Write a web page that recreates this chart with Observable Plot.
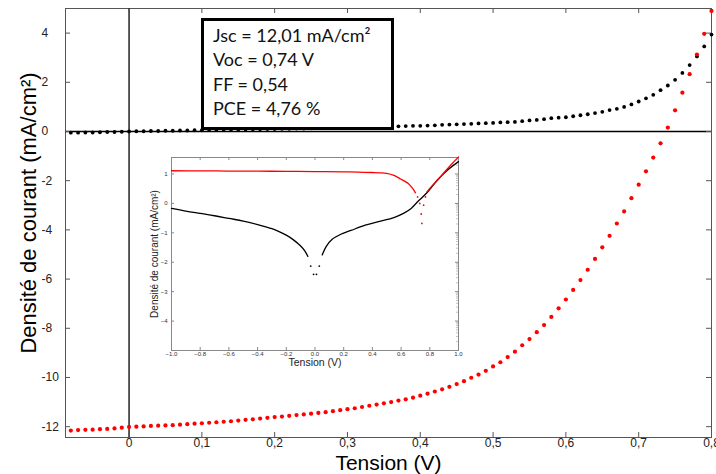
<!DOCTYPE html>
<html>
<head>
<meta charset="utf-8">
<script src="https://cdn.jsdelivr.net/npm/d3@7"></script>
<script src="https://cdn.jsdelivr.net/npm/@observablehq/plot@0.6"></script>
<style>
  html, body { margin: 0; padding: 0; background: white; }
  #wrap { position: relative; width: 716px; height: 474px; overflow: hidden; }
  #inset { position: absolute; left: 140px; top: 150px; }
  #box {
    position: absolute; left: 201px; top: 18px; width: 178px; height: 104px;
    border: 3px solid black; background: white; box-sizing: content-box;
    font-family: Lato, "Open Sans", sans-serif; font-size: 18px; color: #111;
    padding: 2px 0 0 9px; line-height: 24.3px;
  }
</style>
</head>
<body>
<div id="wrap">
  <div id="box">
    <div>Jsc = 12,01 mA/cm²</div>
    <div>Voc = 0,74 V</div>
    <div>FF = 0,54</div>
    <div>PCE = 4,76 %</div>
  </div>
</div>
<script>
// ---- Main chart data (J–V, mA/cm² vs V) ----
const voltage = [-0.08,-0.07,-0.06,-0.05,-0.04,-0.03,-0.02,-0.01,0.00,0.01,0.02,0.03,0.04,0.05,0.06,0.07,0.08,0.09,
  0.10,0.11,0.12,0.13,0.14,0.15,0.16,0.17,0.18,0.19,0.20,0.21,0.22,0.23,0.24,0.25,0.26,0.27,0.28,0.29,
  0.30,0.31,0.32,0.33,0.34,0.35,0.36,0.37,0.38,0.39,0.40,0.41,0.42,0.43,0.44,0.45,0.46,0.47,0.48,0.49,
  0.50,0.51,0.52,0.53,0.54,0.55,0.56,0.57,0.58,0.59,0.60,0.61,0.62,0.63,0.64,0.65,0.66,0.67,0.68,0.69,
  0.70,0.71,0.72,0.73,0.74,0.75,0.76,0.77,0.78,0.79,0.80];

const jLight = [-12.16,-12.14,-12.13,-12.12,-12.10,-12.09,-12.07,-12.04,-12.01,-12.00,-11.99,-11.97,-11.96,-11.95,-11.94,-11.92,-11.90,-11.88,
  -11.86,-11.84,-11.82,-11.80,-11.78,-11.75,-11.72,-11.70,-11.67,-11.64,-11.61,-11.59,-11.56,-11.53,-11.50,-11.47,-11.44,-11.41,-11.37,-11.33,
  -11.29,-11.25,-11.20,-11.15,-11.10,-11.05,-11.00,-10.94,-10.89,-10.82,-10.74,-10.66,-10.57,-10.48,-10.38,-10.27,-10.15,-10.01,-9.88,-9.73,
  -9.55,-9.38,-9.17,-8.95,-8.69,-8.44,-8.16,-7.87,-7.54,-7.19,-6.83,-6.44,-6.04,-5.62,-5.18,-4.71,-4.24,-3.74,-3.25,-2.71,
  -2.16,-1.62,-1.06,-0.48,0.16,0.86,1.58,2.33,3.13,3.97,4.90];

const jDark = [-0.05,-0.05,-0.04,-0.04,-0.03,-0.02,-0.02,-0.01,0.00,0.01,0.01,0.02,0.02,0.03,0.03,0.04,0.04,0.05,
  0.05,0.06,0.06,0.07,0.07,0.08,0.08,0.09,0.09,0.10,0.10,0.11,0.11,0.12,0.12,0.13,0.14,0.14,0.15,0.15,
  0.16,0.17,0.17,0.18,0.19,0.19,0.20,0.21,0.22,0.23,0.23,0.24,0.25,0.27,0.28,0.29,0.30,0.31,0.33,0.34,
  0.35,0.37,0.38,0.39,0.42,0.45,0.47,0.50,0.54,0.56,0.58,0.62,0.66,0.70,0.75,0.80,0.87,0.92,1.00,1.10,
  1.22,1.35,1.49,1.68,1.87,2.10,2.38,2.70,3.05,3.46,3.94];

const xTicks = [0, 0.1, 0.2, 0.3, 0.4, 0.5, 0.6, 0.7, 0.8];
const yTicks = [4, 2, 0, -2, -4, -6, -8, -10, -12];

// ---- Inset data (log10 |J| vs V) ----
const insetDarkLeftV = [-1.00,-0.90,-0.80,-0.70,-0.60,-0.50,-0.40,-0.30,-0.25,-0.20,-0.15,-0.10,-0.07,-0.05];
const insetDarkLeftJ = [-0.17,-0.26,-0.34,-0.42,-0.51,-0.60,-0.72,-0.86,-0.96,-1.08,-1.24,-1.45,-1.62,-1.80];
const insetDarkDipV = [-0.03,-0.01,0.01,0.03];
const insetDarkDipJ = [-2.13,-2.41,-2.41,-2.13];
const insetDarkRightV = [0.05,0.08,0.12,0.18,0.25,0.35,0.45,0.55,0.62,0.67,0.72,0.78,0.85,0.92,1.00];
const insetDarkRightJ = [-1.75,-1.45,-1.22,-1.05,-0.92,-0.74,-0.61,-0.48,-0.33,-0.17,0.08,0.36,0.78,1.12,1.42];

const insetLightLeftV = [-1.00,-0.80,-0.60,-0.40,-0.20,0.00,0.20,0.30,0.40,0.45,0.50,0.55,0.60,0.63,0.65,0.68,0.70];
const insetLightLeftJ = [1.11,1.105,1.10,1.095,1.09,1.08,1.07,1.065,1.05,1.04,1.02,0.95,0.82,0.74,0.68,0.51,0.36];
const insetLightDipV = [0.715,0.73,0.74,0.745,0.757,0.77];
const insetLightDipJ = [0.22,0.00,-0.36,-0.68,-0.06,0.22];
const insetLightRightV = [0.78,0.82,0.86,0.90,0.95,1.00];
const insetLightRightJ = [0.39,0.62,0.82,1.05,1.32,1.58];

const insetXTicks = [-1,-0.8,-0.6,-0.4,-0.2,0,0.2,0.4,0.6,0.8,1];
const insetYTicks = [1,0,-1,-2,-3,-4];
const insetMinorTicks = [];
for (let d = -5; d <= 1; d++) for (let k = 2; k <= 9; k++) { const v = d + Math.log10(k); if (v < 1.56) insetMinorTicks.push(v); }

// ---- Build tables ----
const zip = (xs, ys) => xs.map((x, i) => ({x, y: ys[i]}));
const light = zip(voltage, jLight);
const dark = zip(voltage, jDark);

const W = 716, H = 474, mL = 65, mR = 5, mT = 8, mB = 37;
const pw = W - mL - mR, ph = H - mT - mB;
const frameColor = "#555";
const comma = d => String(d).replace(".", ",");

const main = Plot.plot({
  width: W, height: H,
  marginLeft: mL, marginRight: mR, marginTop: mT, marginBottom: mB,
  x: {domain: [-0.0873, 0.8]},
  y: {domain: [-12.44, 5]},
  style: {fontFamily: "'Liberation Sans', Arial, sans-serif", fontSize: "12px", background: "white", color: "#222"},
  marks: [
    Plot.frame({stroke: frameColor}),
    Plot.ruleX([0], {stroke: "black", strokeWidth: 1.3}),
    Plot.ruleY([0], {stroke: "black", strokeWidth: 1.3}),
    Plot.axisX(xTicks, {tickSize: 0, tickPadding: 1, tickFormat: comma, label: null, fontSize: 12}),
    Plot.tickX(xTicks, {x: d => d, insetTop: ph - 5, stroke: frameColor}),
    Plot.tickX(xTicks, {x: d => d, insetBottom: ph - 5, stroke: frameColor}),
    Plot.axisY(yTicks, {tickSize: 0, tickPadding: 24, textAnchor: "start", tickFormat: d => String(d), label: null, fontSize: 12}),
    Plot.tickY(yTicks, {y: d => d, insetRight: pw - 5, stroke: frameColor}),
    Plot.tickY(yTicks, {y: d => d, insetLeft: pw - 5, stroke: frameColor}),
    Plot.dot(dark, {x: "x", y: "y", r: 1.9, fill: "black", stroke: null}),
    Plot.dot(light, {x: "x", y: "y", r: 2.1, fill: "#ff0000", stroke: null}),
    Plot.text(["Tension (V)"], {frameAnchor: "bottom", textAnchor: "middle", lineAnchor: "bottom", dy: 32, fontSize: 21, fill: "black"}),
    Plot.text(["Densité de courant (mA/cm²)"], {frameAnchor: "left", textAnchor: "middle", lineAnchor: "middle", dx: -37, dy: -10, rotate: -90, fontSize: 22, fill: "black"})
  ]
});
document.getElementById("wrap").prepend(main);

// ---- Inset ----
const iW = 330, iH = 225, iL = 31, iR = 12, iT = 7, iB = 25;
const ipw = iW - iL - iR, iph = iH - iT - iB;
const insetFrame = "#888";
const inset = Plot.plot({
  width: iW, height: iH,
  marginLeft: iL, marginRight: iR, marginTop: iT, marginBottom: iB,
  x: {domain: [-1, 1]},
  y: {domain: [-5, 1.56]},
  style: {fontFamily: "'Liberation Sans', Arial, sans-serif", fontSize: "6px", background: "white", color: "#333"},
  marks: [
    Plot.frame({stroke: insetFrame}),
    Plot.axisX(insetXTicks, {tickSize: 0, tickPadding: 1, label: null, fontSize: 6}),
    Plot.tickX(insetXTicks, {x: d => d, insetTop: iph - 3, stroke: insetFrame}),
    Plot.tickX(insetXTicks, {x: d => d, insetBottom: iph - 3, stroke: insetFrame}),
    Plot.axisY(insetYTicks, {tickSize: 0, tickPadding: 4, label: null, fontSize: 6}),
    Plot.tickY(insetYTicks, {y: d => d, insetRight: ipw - 3, stroke: insetFrame}),
    Plot.tickY(insetYTicks, {y: d => d, insetLeft: ipw - 3, stroke: insetFrame}),
    Plot.tickY(insetMinorTicks, {y: d => d, insetLeft: ipw - 2, stroke: "#aaa", strokeWidth: 0.7}),
    Plot.line(zip(insetDarkLeftV, insetDarkLeftJ), {x: "x", y: "y", stroke: "black", strokeWidth: 1.3, curve: "catmull-rom"}),
    Plot.dot(zip(insetDarkDipV, insetDarkDipJ), {x: "x", y: "y", r: 0.9, fill: "black", stroke: null}),
    Plot.line(zip(insetDarkRightV, insetDarkRightJ), {x: "x", y: "y", stroke: "black", strokeWidth: 1.3, curve: "catmull-rom"}),
    Plot.line(zip(insetLightLeftV, insetLightLeftJ), {x: "x", y: "y", stroke: "#ff0000", strokeWidth: 1.3, curve: "catmull-rom"}),
    Plot.dot(zip(insetLightDipV, insetLightDipJ), {x: "x", y: "y", r: 0.9, fill: "#ff0000", stroke: null}),
    Plot.line(zip(insetLightRightV, insetLightRightJ), {x: "x", y: "y", stroke: "#ff0000", strokeWidth: 1.3, curve: "catmull-rom"}),
    Plot.text(["Tension (V)"], {frameAnchor: "bottom", textAnchor: "middle", lineAnchor: "top", dy: 8, fontSize: 10.5, fill: "#222"}),
    Plot.text(["Densité de courant (mA/cm²)"], {frameAnchor: "left", textAnchor: "middle", lineAnchor: "middle", dx: -17, rotate: -90, fontSize: 10, fill: "#222"})
  ]
});
inset.id = "inset";
document.getElementById("wrap").appendChild(inset);
</script>
</body>
</html>
